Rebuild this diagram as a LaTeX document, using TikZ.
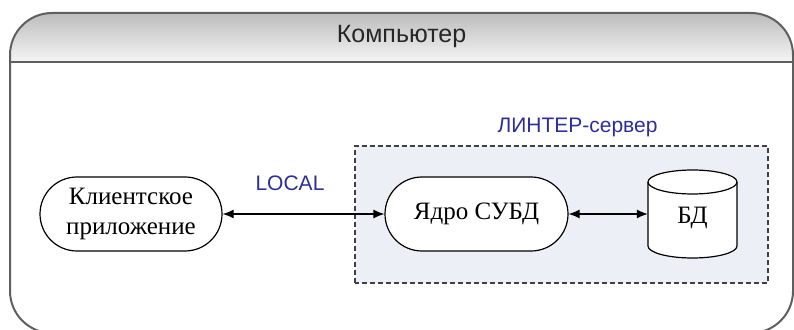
\documentclass[tikz,border=0pt]{standalone}
\usepackage{fontspec}
\setmainfont{Liberation Serif}
\newfontfamily\arialf{Liberation Sans}
\usetikzlibrary{shapes.misc,arrows.meta}
\definecolor{lblue}{RGB}{45,45,160}
\definecolor{srvfill}{RGB}{236,239,245}
\definecolor{framegray}{RGB}{95,95,95}
\definecolor{hdtop}{RGB}{188,188,188}
\definecolor{hdbot}{RGB}{246,246,246}
\begin{document}
\begin{tikzpicture}[x=1pt,y=1pt,
  procbox/.style={rounded rectangle, draw=black, line width=1.2pt, fill=white,
    minimum width=182pt, minimum height=74pt, inner sep=0pt, align=center,
    font=\fontsize{25}{30}\selectfont},
  conn/.style={{Latex[length=11pt,width=9pt]}-{Latex[length=11pt,width=9pt]}, line width=1.2pt},
  lbl/.style={text=lblue, font=\arialf\fontsize{21}{25}\selectfont, inner sep=0pt}]
\useasboundingbox (0,0) rectangle (794,329);
\clip (0,0) rectangle (794,329);
% header shading
\shade[top color=hdtop, bottom color=hdbot] (10,266.5) -- (10,274) arc (180:90:42) -- (751,316) arc (90:0:42) -- (793,266.5) -- cycle;
\draw[framegray, line width=2pt] (10,266.5) -- (793,266.5);
\draw[framegray, line width=2pt, rounded corners=42pt] (10,-4) rectangle (793,316);
\node[anchor=base, inner sep=0pt, text=black!85, font=\arialf\fontsize{25}{30}\selectfont] (title) at (401.5,286) {Компьютер};
% server box
\draw[dash pattern=on 5pt off 3pt, line width=1.3pt, draw=black!75, fill=srvfill] (355,46) rectangle (768,183);
\node[lbl, anchor=base] (srv) at (577.5,196) {ЛИНТЕР-сервер};
% nodes
\node[procbox] (client) at (131,115) {Клиентское\\приложение};
\node[procbox, minimum width=183pt] (core) at (476.5,115) {Ядро СУБД};
% cylinder
\filldraw[fill=white, line width=1.2pt] (648,147) -- (648,83) arc (180:360:44.5 and 12) -- (737,147) arc (0:180:44.5 and 12) -- cycle;
\draw[line width=1.2pt] (648,147) arc (180:360:44.5 and 12);
\node[minimum width=89pt, minimum height=88pt, inner sep=0pt] (bdbox) at (692.5,115) {};
\node[inner sep=0pt, font=\fontsize{25}{30}\selectfont] (bd) at (692.5,111) {БД};
% connectors
\draw[conn] (client.east) -- (core.west);
\draw[conn] (core.east) -- (bdbox.west);
\node[lbl, anchor=base] (local) at (290,138) {LOCAL};
\end{tikzpicture}
\end{document}
